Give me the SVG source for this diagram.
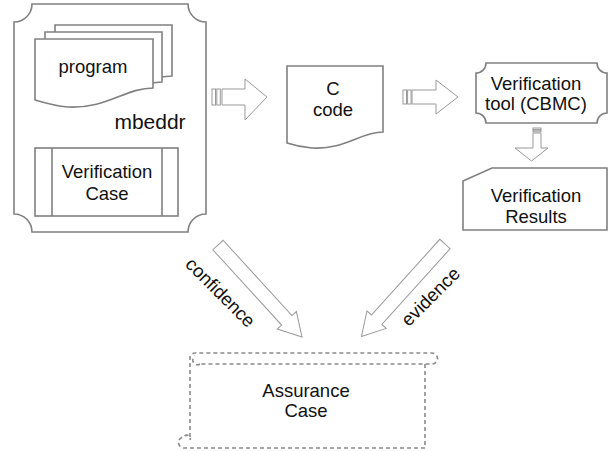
<svg xmlns="http://www.w3.org/2000/svg" width="609" height="451" viewBox="0 0 609 451">
  <style>
    .shape { fill: #ffffff; stroke: #808080; stroke-width: 1.6; }
    .thin { fill: #ffffff; stroke: #999999; stroke-width: 1; }
    .dash { fill: none; stroke: #8a8a8a; stroke-width: 1.6; stroke-dasharray: 4 3; }
    .label { font-family: "Liberation Sans", Arial, sans-serif; font-size: 18.5px; fill: #111111; text-anchor: middle; }
    .big { font-size: 21px; }
  </style>
  <defs>
    <!-- wide block arrow pointing along +x, tail at origin -->
    <path id="diagArrow" d="M0,-7 H102 V-13 L124.6,0 L102,13 V7 H0 Z"/>
  </defs>

  <!-- mbeddr container -->
  <g id="mbeddr">
    <path class="shape" d="M32,4 H188 A18,18 0 0 0 206,22 V214 A18,18 0 0 0 188,232 H32 A18,18 0 0 0 14,214 V22 A18,18 0 0 0 32,4 Z"/>
    <text class="label big" x="150" y="129">mbeddr</text>
  </g>

  <!-- stacked program documents -->
  <g id="program">
    <path class="shape" d="M55,25 H172 V76 C144,76 126,97 88,95 C75,94 65,91 55,88 Z"/>
    <path class="shape" d="M45,32 H162 V82 C134,82 116,103 78,101 C65,100 55,97 45,94 Z"/>
    <path class="shape" d="M35,39 H153 V88 C125,88 107,109 68,107 C55,106 45,103 35,100 Z"/>
    <text class="label" x="93" y="73">program</text>
  </g>

  <!-- verification case (process box) -->
  <g id="verification-case">
    <rect class="shape" x="35" y="148" width="143" height="68"/>
    <line class="shape" x1="52" y1="148" x2="52" y2="216"/>
    <line class="shape" x1="162" y1="148" x2="162" y2="216"/>
    <text class="label" x="107" y="178">Verification</text>
    <text class="label" x="107" y="200">Case</text>
  </g>

  <!-- C code document -->
  <g id="c-code">
    <path class="shape" d="M287,66 H383 V132 C360,132 345,150 312,148 C300,147 293,145 287,143 Z"/>
    <text class="label" x="333" y="95">C</text>
    <text class="label" x="333" y="116">code</text>
  </g>

  <!-- verification tool -->
  <g id="verification-tool">
    <path class="shape" d="M486,63 H597 A10,10 0 0 0 607,73 V113 A10,10 0 0 0 597,123 H486 A10,10 0 0 0 476,113 V73 A10,10 0 0 0 486,63 Z"/>
    <text class="label" x="536" y="90">Verification</text>
    <text class="label" x="536" y="110">tool (CBMC)</text>
  </g>

  <!-- verification results (card) -->
  <g id="verification-results">
    <path class="shape" d="M463,181 L492,168 H607 V230 H463 Z"/>
    <text class="label" x="536" y="202">Verification</text>
    <text class="label" x="536" y="223">Results</text>
  </g>

  <!-- assurance case (scroll) -->
  <g id="assurance-case">
    <path class="dash" d="M190,437 V358 A5,5 0 0 1 195,353 H432 A5.5,5.5 0 0 1 432,364 H200"/>
    <path class="dash" d="M200,364 A4,4 0 0 1 195,356"/>
    <path class="dash" d="M425,364 V448 H184 A5.5,5.5 0 0 1 184,437 A3,3 0 0 1 190,440"/>
    <text class="label" x="306" y="397">Assurance</text>
    <text class="label" x="306" y="417">Case</text>
  </g>

  <!-- connectors -->
  <g id="connectors">
    <!-- mbeddr to C code -->
    <rect class="thin" x="212" y="89" width="3.5" height="16"/>
    <rect class="thin" x="216.8" y="89" width="3.5" height="16"/>
    <path class="thin" d="M222,89 H245 V79 L267,97 L245,120 V105 H222 Z"/>

    <!-- C code to verification tool -->
    <rect class="thin" x="403" y="90" width="3.5" height="14"/>
    <rect class="thin" x="407.6" y="90" width="3.5" height="14"/>
    <path class="thin" d="M412,90 H436 V80 L458,97 L436,114 V104 H412 Z"/>

    <!-- verification tool to results -->
    <rect class="thin" x="533" y="128" width="8" height="1.6"/>
    <rect class="thin" x="533" y="130.2" width="8" height="1.6"/>
    <path class="thin" d="M533,133 H541 V148 H548 L531.5,161 L515,148 H533 Z"/>

    <!-- confidence -->
    <use href="#diagArrow" class="thin" transform="translate(218,245) rotate(47.6)"/>
    <text class="label" transform="translate(216,297) rotate(45)">confidence</text>

    <!-- evidence -->
    <use href="#diagArrow" class="thin" transform="translate(445,244) rotate(132.1)"/>
    <text class="label" transform="translate(435,301) rotate(-45)">evidence</text>
  </g>
</svg>
